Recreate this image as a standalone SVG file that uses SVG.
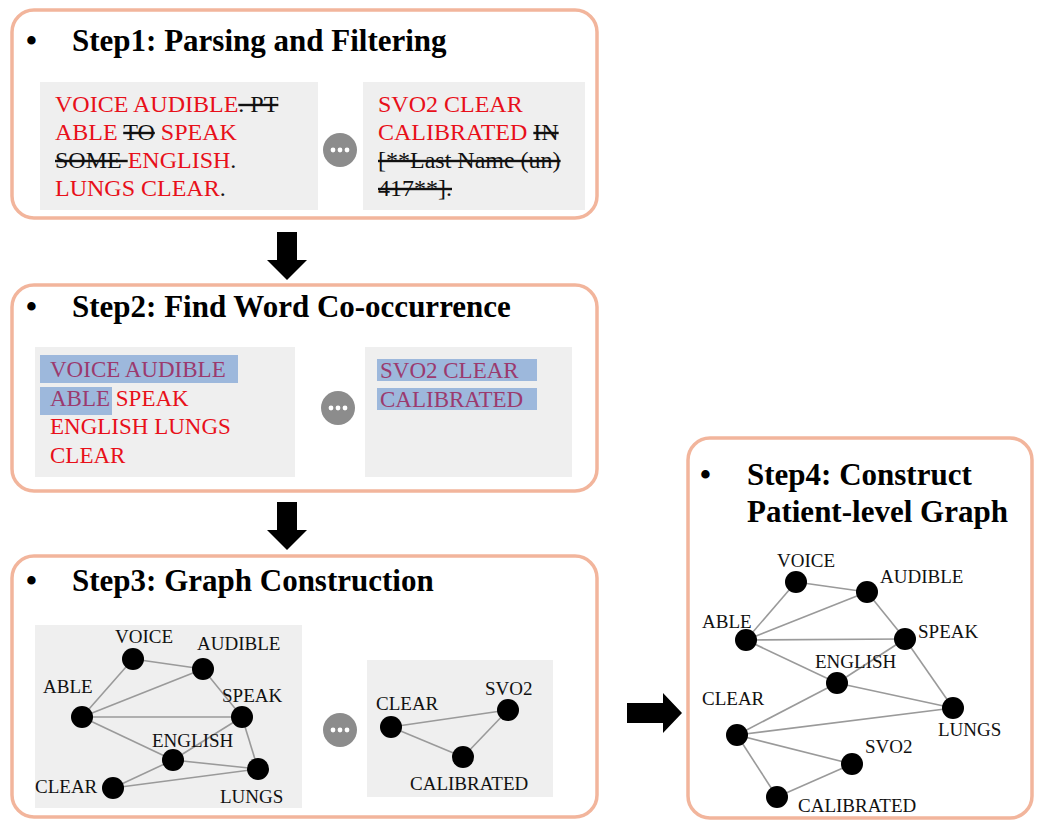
<svg xmlns="http://www.w3.org/2000/svg" xmlns:xlink="http://www.w3.org/1999/xlink" width="1038" height="822" viewBox="0 0 1038 822">
  <style>
    .box { fill: #ffffff; stroke: #f2b59c; stroke-width: 3.5; }
    .panel { fill: #efefef; }
    .title { font-family: "Liberation Serif", "Times New Roman", serif; font-weight: bold; font-size: 31px; fill: #000; }
    .note { font-family: "Liberation Serif", "Times New Roman", serif; font-size: 24px; fill: #e8101a; }
    .note2 { font-family: "Liberation Serif", "Times New Roman", serif; font-size: 23px; fill: #e8101a; }
    .cut { fill: #111; text-decoration: line-through; }
    .plain { fill: #111; }
    .hl { fill: #9db8dc; }
    .hlt { fill: #9b3a6e; }
    .lbl { font-family: "Liberation Serif", "Times New Roman", serif; font-size: 19px; fill: #111; }
    .edge { stroke: #9a9a9a; stroke-width: 1.6; fill: none; }
    .vert { fill: #000; }
    .arrow { fill: #000; }
  </style>
  <defs>
    <g id="more">
      <circle r="17" fill="#8c8c8c"/>
      <circle cx="-7" r="2.4" fill="#fff"/>
      <circle cx="0" r="2.4" fill="#fff"/>
      <circle cx="7" r="2.4" fill="#fff"/>
    </g>
    <polygon id="down" points="-10,0 10,0 10,28 20,28 0,48 -20,28 -10,28"/>
    <polygon id="right" points="0,-10 36,-10 36,-20 55,0 36,20 36,10 0,10"/>
  </defs>

  <rect width="1038" height="822" fill="#ffffff"/>

  <!-- Step 1: parsing and filtering -->
  <g id="step1">
    <rect class="box" x="12" y="10" width="585" height="208" rx="22"/>
    <text class="title" x="26" y="51">•</text>
    <text class="title" x="72" y="51">Step1: Parsing and Filtering</text>
    <rect class="panel" x="40" y="82" width="278" height="128"/>
    <text class="note" x="55" y="112">VOICE AUDIBLE<tspan class="cut">. PT</tspan></text>
    <text class="note" x="55" y="140">ABLE <tspan class="cut">TO</tspan> SPEAK</text>
    <text class="note" x="55" y="168"><tspan class="cut">SOME </tspan>ENGLISH<tspan class="plain">.</tspan></text>
    <text class="note" x="55" y="196">LUNGS CLEAR<tspan class="plain">.</tspan></text>
    <use xlink:href="#more" x="340" y="150"/>
    <rect class="panel" x="363" y="82" width="222" height="128"/>
    <text class="note" x="378" y="112">SVO2 CLEAR</text>
    <text class="note" x="378" y="140">CALIBRATED <tspan class="cut">IN</tspan></text>
    <text class="note" x="378" y="168"><tspan class="cut">[**Last Name (un)</tspan></text>
    <text class="note" x="378" y="196"><tspan class="cut">417**].</tspan></text>
  </g>

  <!-- Step 2: word co-occurrence -->
  <g id="step2">
    <rect class="box" x="12" y="285" width="585" height="206" rx="22"/>
    <text class="title" x="26" y="317">•</text>
    <text class="title" x="72" y="317">Step2: Find Word Co-occurrence</text>
    <rect class="panel" x="35" y="347" width="260" height="130"/>
    <rect class="hl" x="40" y="355" width="198" height="28"/>
    <rect class="hl" x="40" y="387" width="72" height="28"/>
    <text class="note2 hlt" x="50" y="377">VOICE AUDIBLE</text>
    <text class="note2" x="50" y="406"><tspan class="hlt">ABLE</tspan> SPEAK</text>
    <text class="note2" x="50" y="434">ENGLISH LUNGS</text>
    <text class="note2" x="50" y="463">CLEAR</text>
    <use xlink:href="#more" x="338" y="408"/>
    <rect class="panel" x="365" y="347" width="207" height="130"/>
    <rect class="hl" x="377" y="359" width="160" height="22"/>
    <rect class="hl" x="377" y="388" width="160" height="22"/>
    <text class="note2 hlt" x="380" y="378">SVO2 CLEAR</text>
    <text class="note2 hlt" x="380" y="407">CALIBRATED</text>
  </g>

  <!-- Step 3: graph construction -->
  <g id="step3">
    <rect class="box" x="12" y="556" width="585" height="261" rx="22"/>
    <text class="title" x="26" y="591">•</text>
    <text class="title" x="72" y="591">Step3: Graph Construction</text>
    <rect class="panel" x="35" y="625" width="267" height="183"/>
    <rect class="panel" x="367" y="660" width="186" height="137"/>
    <use xlink:href="#more" x="340" y="730"/>

    <g id="step3-edges-a">
      <line class="edge" x1="133" y1="659" x2="203" y2="669"/>
      <line class="edge" x1="133" y1="659" x2="82" y2="717"/>
      <line class="edge" x1="82" y1="717" x2="203" y2="669"/>
      <line class="edge" x1="82" y1="717" x2="242" y2="717"/>
      <line class="edge" x1="82" y1="717" x2="173" y2="760"/>
      <line class="edge" x1="203" y1="669" x2="242" y2="717"/>
      <line class="edge" x1="242" y1="717" x2="173" y2="760"/>
      <line class="edge" x1="242" y1="717" x2="258" y2="769"/>
      <line class="edge" x1="173" y1="760" x2="258" y2="769"/>
      <line class="edge" x1="173" y1="760" x2="113" y2="788"/>
      <line class="edge" x1="113" y1="788" x2="258" y2="769"/>
    </g>
    <g id="s3-voice"><circle class="vert" cx="133" cy="659" r="11"/><text class="lbl" x="115" y="643">VOICE</text></g>
    <g id="s3-audible"><circle class="vert" cx="203" cy="669" r="11"/><text class="lbl" x="197" y="650">AUDIBLE</text></g>
    <g id="s3-able"><circle class="vert" cx="82" cy="717" r="11"/><text class="lbl" x="43" y="693">ABLE</text></g>
    <g id="s3-speak"><circle class="vert" cx="242" cy="717" r="11"/><text class="lbl" x="222" y="702">SPEAK</text></g>
    <g id="s3-english"><circle class="vert" cx="173" cy="760" r="11"/><text class="lbl" x="152" y="747">ENGLISH</text></g>
    <g id="s3-lungs"><circle class="vert" cx="258" cy="769" r="11"/><text class="lbl" x="220" y="803">LUNGS</text></g>
    <g id="s3-clear"><circle class="vert" cx="113" cy="788" r="11"/><text class="lbl" x="35" y="793">CLEAR</text></g>

    <g id="step3-edges-b">
      <line class="edge" x1="391" y1="727" x2="508" y2="710"/>
      <line class="edge" x1="391" y1="727" x2="463" y2="757"/>
      <line class="edge" x1="463" y1="757" x2="508" y2="710"/>
    </g>
    <g id="s3b-clear"><circle class="vert" cx="391" cy="727" r="11"/><text class="lbl" x="376" y="710">CLEAR</text></g>
    <g id="s3b-svo2"><circle class="vert" cx="508" cy="710" r="11"/><text class="lbl" x="485" y="695">SVO2</text></g>
    <g id="s3b-calibrated"><circle class="vert" cx="463" cy="757" r="11"/><text class="lbl" x="410" y="790">CALIBRATED</text></g>
  </g>

  <!-- Step 4: patient-level graph -->
  <g id="step4">
    <rect class="box" x="688" y="438" width="344" height="380" rx="22"/>
    <text class="title" x="700" y="485">•</text>
    <text class="title" x="747" y="485">Step4: Construct</text>
    <text class="title" x="747" y="522">Patient-level Graph</text>

    <g id="step4-edges">
      <line class="edge" x1="796" y1="582" x2="867" y2="592"/>
      <line class="edge" x1="796" y1="582" x2="746" y2="640"/>
      <line class="edge" x1="746" y1="640" x2="867" y2="592"/>
      <line class="edge" x1="746" y1="640" x2="905" y2="639"/>
      <line class="edge" x1="746" y1="640" x2="837" y2="683"/>
      <line class="edge" x1="867" y1="592" x2="905" y2="639"/>
      <line class="edge" x1="905" y1="639" x2="837" y2="683"/>
      <line class="edge" x1="905" y1="639" x2="953" y2="708"/>
      <line class="edge" x1="837" y1="683" x2="953" y2="708"/>
      <line class="edge" x1="837" y1="683" x2="737" y2="735"/>
      <line class="edge" x1="737" y1="735" x2="953" y2="708"/>
      <line class="edge" x1="737" y1="735" x2="852" y2="764"/>
      <line class="edge" x1="737" y1="735" x2="777" y2="797"/>
      <line class="edge" x1="777" y1="797" x2="852" y2="764"/>
    </g>
    <g id="s4-voice"><circle class="vert" cx="796" cy="582" r="11"/><text class="lbl" x="777" y="567">VOICE</text></g>
    <g id="s4-audible"><circle class="vert" cx="867" cy="592" r="11"/><text class="lbl" x="880" y="583">AUDIBLE</text></g>
    <g id="s4-able"><circle class="vert" cx="746" cy="640" r="11"/><text class="lbl" x="702" y="628">ABLE</text></g>
    <g id="s4-speak"><circle class="vert" cx="905" cy="639" r="11"/><text class="lbl" x="918" y="638">SPEAK</text></g>
    <g id="s4-english"><circle class="vert" cx="837" cy="683" r="11"/><text class="lbl" x="815" y="668">ENGLISH</text></g>
    <g id="s4-lungs"><circle class="vert" cx="953" cy="708" r="11"/><text class="lbl" x="938" y="736">LUNGS</text></g>
    <g id="s4-clear"><circle class="vert" cx="737" cy="735" r="11"/><text class="lbl" x="702" y="705">CLEAR</text></g>
    <g id="s4-svo2"><circle class="vert" cx="852" cy="764" r="11"/><text class="lbl" x="865" y="753">SVO2</text></g>
    <g id="s4-calibrated"><circle class="vert" cx="777" cy="797" r="11"/><text class="lbl" x="798" y="812">CALIBRATED</text></g>
  </g>

  <!-- block arrows between the steps -->
  <g id="connectors">
    <use xlink:href="#down" class="arrow" x="287" y="232"/>
    <use xlink:href="#down" class="arrow" x="287" y="502"/>
    <use xlink:href="#right" class="arrow" x="627" y="713"/>
  </g>
</svg>
